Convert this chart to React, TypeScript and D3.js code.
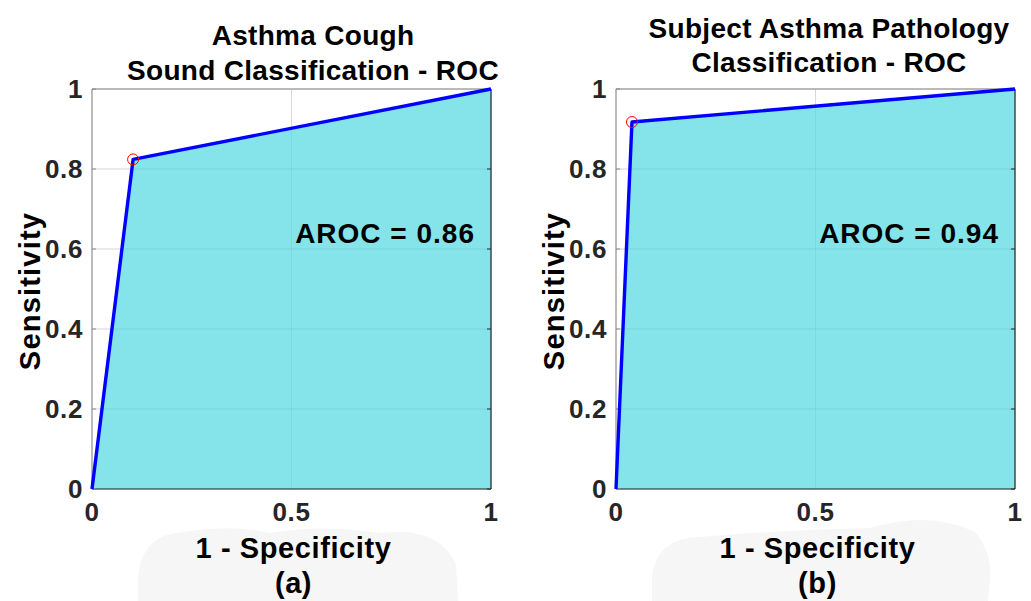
import React from "react";
import * as d3 from "d3";

const ticksY = [0, 0.2, 0.4, 0.6, 0.8, 1];
const ticksX = [0, 0.5, 1];
const rocA_fpr = [0, 0.103, 1];
const rocA_tpr = [0, 0.824, 1];
const rocB_fpr = [0, 0.04, 1];
const rocB_tpr = [0, 0.9175, 1];
const titlesA = ["Asthma Cough", "Sound Classification - ROC"];
const titlesB = ["Subject Asthma Pathology", "Classification - ROC"];

const FONT = "'Liberation Sans', Arial, Helvetica, sans-serif";

type PanelProps = {
  x0: number; x1: number; y0: number; y1: number;
  fpr: number[]; tpr: number[]; op: number;
  titles: string[]; titleY: number[]; titleX: number; label: string; auc: string;
};

function Panel({ x0, x1, y0, y1, fpr, tpr, op, titles, titleY, titleX, label, auc }: PanelProps) {
  const x = d3.scaleLinear().domain([0, 1]).range([x0, x1]);
  const y = d3.scaleLinear().domain([0, 1]).range([y1, y0]);
  const pts: [number, number][] = fpr.map((f, i) => [f, tpr[i]]);
  const area = d3.area<[number, number]>().x(d => x(d[0])).y0(y(0)).y1(d => y(d[1]))(pts) || "";
  const line = d3.line<[number, number]>().x(d => x(d[0])).y(d => y(d[1]))(pts) || "";
  const cx = (x0 + x1) / 2;
  return (
    <g>
      {ticksY.map(t => (
        <line key={"gy" + t} x1={x0} x2={x1} y1={y(t)} y2={y(t)} stroke="#262626" strokeOpacity={0.12} strokeWidth={1} />
      ))}
      {ticksX.map(t => (
        <line key={"gx" + t} x1={x(t)} x2={x(t)} y1={y0} y2={y1} stroke="#262626" strokeOpacity={0.12} strokeWidth={1} />
      ))}
      <path d={area} fill="#84e4ea" />
      {ticksY.map(t => (
        <line key={"gy2" + t} x1={x0} x2={x1} y1={y(t)} y2={y(t)} stroke="#262626" strokeOpacity={0.08} strokeWidth={1} />
      ))}
      {ticksX.map(t => (
        <line key={"gx2" + t} x1={x(t)} x2={x(t)} y1={y0} y2={y1} stroke="#262626" strokeOpacity={0.06} strokeWidth={1} />
      ))}
      <line x1={x0} x2={x1} y1={y0} y2={y0} stroke="#8a8a8a" strokeWidth={1} />
      <line x1={x0} x2={x0} y1={y0} y2={y1} stroke="#8a8a8a" strokeWidth={1} />
      <line x1={x1} x2={x1} y1={y0} y2={y1} stroke="#262626" strokeWidth={1.2} />
      <line x1={x0} x2={x1} y1={y1} y2={y1} stroke="#262626" strokeWidth={1.2} />
      {ticksY.map(t => (
        <g key={"ty" + t}>
          <line x1={x1 - 4} x2={x1} y1={y(t)} y2={y(t)} stroke="#262626" />
          <line x1={x0} x2={x0 + 4} y1={y(t)} y2={y(t)} stroke="#8a8a8a" />
        </g>
      ))}
      <path d={line} fill="none" stroke="#0000ff" strokeWidth={3.4} strokeLinejoin="round" />
      <circle cx={x(fpr[op])} cy={y(tpr[op])} r={5.5} fill="none" stroke="#ff0000" strokeWidth={1} />
      {ticksY.map(t => (
        <text key={"ly" + t} x={x0 - 9} y={y(t)} dy="0.36em" textAnchor="end" fontFamily={FONT} fontWeight="bold" fontSize={26} letterSpacing={0.6} fill="#262626">
          {d3.format("~g")(t)}
        </text>
      ))}
      {ticksX.map(t => (
        <text key={"lx" + t} x={x(t)} y={y1 + 23} dy="0.36em" textAnchor="middle" fontFamily={FONT} fontWeight="bold" fontSize={26} letterSpacing={0.6} fill="#262626">
          {d3.format("~g")(t)}
        </text>
      ))}
      <text x={x1 - 16} y={y(0.64)} dy="0.36em" textAnchor="end" fontFamily={FONT} fontWeight="bold" fontSize={28} letterSpacing={1} fill="#000">{auc}</text>
      {titles.map((s, i) => (
        <text key={"t" + i} x={titleX} y={titleY[i]} dy="0.36em" textAnchor="middle" fontFamily={FONT} fontWeight="bold" fontSize={28} letterSpacing={0.3} fill="#000">{s}</text>
      ))}
      <text x={cx + 2} y={548} dy="0.36em" textAnchor="middle" fontFamily={FONT} fontWeight="bold" fontSize={29} letterSpacing={0.6} fill="#000">1 - Specificity</text>
      <text x={cx + 2} y={583} dy="0.36em" textAnchor="middle" fontFamily={FONT} fontWeight="bold" fontSize={29} letterSpacing={0.6} fill="#000">{label}</text>
      <text transform={`translate(${x0 - 62},${(y0 + y1) / 2 + 2}) rotate(-90)`} dy="0.36em" textAnchor="middle" fontFamily={FONT} fontWeight="bold" fontSize={29} letterSpacing={1.2} fill="#000">Sensitivity</text>
    </g>
  );
}

export default function App() {
  return (
    <svg width={1031} height={601} style={{ position: "absolute", left: 0, top: 0, background: "#fff" }}>
      <rect width={1031} height={601} fill="#fff" />
      <path d="M 138 601 L 138 580 Q 140 534 185 532 Q 230 524 270 533 Q 320 524 380 533 Q 440 526 456 565 L 458 601 Z" fill="#f6f6f6" />
      <path d="M 652 601 L 652 578 Q 655 538 700 537 Q 780 530 870 528 Q 930 510 975 532 Q 992 552 990 578 L 988 601 Z" fill="#f6f6f6" />
      <Panel x0={92} x1={491} y0={89} y1={489} fpr={rocA_fpr} tpr={rocA_tpr} op={1}
        titles={titlesA} titleY={[35, 70]} titleX={313} label="(a)" auc="AROC = 0.86" />
      <Panel x0={616} x1={1015} y0={89} y1={489} fpr={rocB_fpr} tpr={rocB_tpr} op={1}
        titles={titlesB} titleY={[28, 62]} titleX={829} label="(b)" auc="AROC = 0.94" />
    </svg>
  );
}
